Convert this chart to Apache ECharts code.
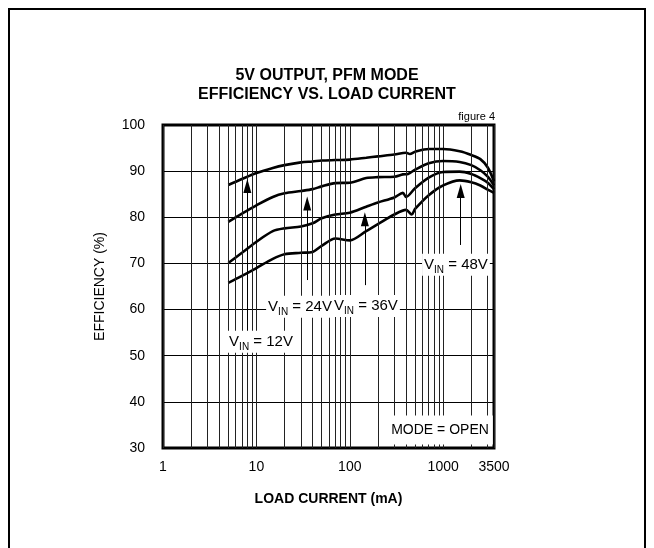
<!DOCTYPE html>
<html>
<head>
<meta charset="utf-8">
<style>
html,body{margin:0;padding:0;background:#fff;}
#chart{width:654px;height:548px;}
</style>
<script src="https://cdn.jsdelivr.net/npm/echarts@6/dist/echarts.min.js"></script>
</head>
<body>
<div id="chart"></div>
<script>
// load current (mA) / efficiency (%) for each input voltage
var load12 = [5, 7, 10, 15, 20, 30, 40, 50, 70, 100, 150, 200, 300, 400, 440, 500, 700, 1000, 1500, 2000, 2500, 3000, 3500];
var eff12  = [87, 88.3, 89.6, 90.7, 91.3, 91.9, 92.1, 92.3, 92.4, 92.5, 92.9, 93.2, 93.6, 94.0, 93.7, 94.2, 94.8, 94.8, 94.3, 93.5, 92.6, 90.8, 87.8];

var load24 = [5, 7, 10, 15, 20, 30, 40, 50, 70, 100, 150, 200, 300, 370, 420, 500, 700, 1000, 1500, 2000, 2500, 3000, 3500];
var eff24  = [79, 80.8, 82.6, 84.4, 85.2, 85.7, 86.1, 86.7, 87.4, 87.5, 88.5, 88.7, 88.8, 89.3, 89.4, 90.3, 91.7, 92.2, 92.0, 91.3, 90.2, 88.8, 86.9];

var load36 = [5, 7, 10, 15, 20, 30, 40, 50, 70, 100, 150, 200, 300, 370, 400, 500, 700, 1000, 1500, 2000, 2500, 3000, 3500];
var eff36  = [70.1, 72.3, 74.7, 77, 77.6, 78, 78.7, 79.8, 80.6, 81, 82.3, 83.2, 84.3, 85.3, 84.4, 86.3, 88.6, 89.8, 89.9, 89.4, 88.5, 87.5, 86.1];

var load48 = [5, 7, 10, 15, 20, 30, 40, 50, 70, 100, 150, 200, 300, 400, 460, 500, 700, 1000, 1500, 2000, 2500, 3000, 3500];
var eff48  = [65.8, 67.3, 69, 71, 72, 72.3, 72.5, 73.8, 75.4, 75.0, 77, 78.5, 80.6, 81.6, 80.6, 81.8, 84.8, 86.9, 88, 87.6, 86.9, 86, 85.3];

// minor vertical grid lines of the log axis
var minorX = [2, 3, 4, 5, 6, 7, 8, 9, 20, 30, 40, 50, 60, 70, 80, 90, 200, 300, 400, 500, 600, 700, 800, 900, 2000, 3000];

// annotations: V_IN labels and arrows
var vinNames  = ['12V', '24V', '36V', '48V'];
var arrowX    = [8, 35, 145, 1540];
var arrowTip  = [88.3, 84.5, 81.1, 87.2];
var arrowTail = [54.9, 66.4, 65.3, 74];
var labelX    = [11.2, 29.3, 149, 1370];
var labelY    = [53.0, 60.6, 60.8, 69.7];

var font = '"Liberation Sans", Arial, sans-serif';

var myChart = echarts.init(document.getElementById('chart'));

function pairs(xs, ys) {
    return xs.map(function (x, i) { return [x, ys[i]]; });
}

var curves = [pairs(load12, eff12), pairs(load24, eff24), pairs(load36, eff36), pairs(load48, eff48)];

var series = [];

// grid lines at 2..9 x decade
series.push({
    type: 'line',
    data: [],
    z: 1,
    markLine: {
        silent: true,
        symbol: ['none', 'none'],
        label: {show: false},
        lineStyle: {color: '#222', width: 1, type: 'solid'},
        data: minorX.map(function (v) { return {xAxis: v}; })
    }
});

curves.forEach(function (d, i) {
    series.push({
        name: vinNames[i],
        type: 'line',
        data: d,
        smooth: 0.3,
        showSymbol: false,
        symbol: 'none',
        z: 3,
        lineStyle: {color: '#000', width: 2.6}
    });
});

// arrows: shaft as markLine, head as markPoint triangle
series.push({
    type: 'line',
    data: [],
    z: 4,
    markLine: {
        silent: true,
        symbol: ['none', 'none'],
        label: {show: false},
        lineStyle: {color: '#000', width: 1, type: 'solid'},
        data: arrowX.map(function (x, i) {
            return [{coord: [x, arrowTail[i]]}, {coord: [x, arrowTip[i] - 1]}];
        })
    },
    markPoint: {
        silent: true,
        symbol: 'triangle',
        symbolSize: [8, 14],
        symbolOffset: [0, 7],
        itemStyle: {color: '#000'},
        label: {show: false},
        data: arrowX.map(function (x, i) {
            return {coord: [x, arrowTip[i]]};
        })
    }
});

// V_IN labels and the mode box
series.push({
    type: 'line',
    data: [],
    z: 5,
    markPoint: {
        silent: true,
        symbol: 'circle',
        symbolSize: 0,
        label: {
            show: true,
            position: 'inside',
            backgroundColor: '#fff',
            padding: [2, 2],
            formatter: function (p) {
                return '{v|V}{s|IN}{v| = ' + p.name + '}';
            },
            rich: {
                v: {fontSize: 15, fontFamily: font, color: '#000', lineHeight: 18},
                s: {fontSize: 10, fontFamily: font, color: '#000', lineHeight: 18, padding: [10, 0, 0, 0]}
            }
        },
        data: vinNames.map(function (n, i) {
            return {name: n, coord: [labelX[i], labelY[i]]};
        }).concat([{
            name: 'mode',
            coord: [925, 33.9],
            label: {
                formatter: 'MODE = OPEN',
                fontSize: 14,
                fontFamily: font,
                color: '#000',
                padding: [8, 4, 7, 4]
            }
        }])
    }
});

var option = {
    animation: false,
    backgroundColor: '#fff',
    title: [{
        text: '5V OUTPUT, PFM MODE\nEFFICIENCY VS. LOAD CURRENT',
        left: 'center',
        top: 61,
        textStyle: {fontSize: 16, fontWeight: 'bold', fontFamily: font, color: '#000', lineHeight: 19}
    }],
    graphic: [{
        type: 'rect',
        shape: {x: 9, y: 9, width: 636, height: 600},
        style: {fill: 'none', stroke: '#000', lineWidth: 2},
        silent: true
    }, {
        type: 'text',
        x: 495,
        y: 117,
        style: {text: 'figure 4', fontSize: 11, fontFamily: font, fill: '#000', align: 'right', verticalAlign: 'middle'}
    }],
    grid: {
        left: 163,
        right: 160,
        top: 125,
        bottom: 100,
        show: true,
        borderColor: '#000',
        borderWidth: 3
    },
    xAxis: {
        type: 'log',
        logBase: 10,
        min: 1,
        max: 3500,
        name: 'LOAD CURRENT (mA)',
        nameLocation: 'middle',
        nameGap: 44,
        nameTextStyle: {fontSize: 14, fontWeight: 'bold', fontFamily: font, color: '#000'},
        axisLine: {show: false},
        axisTick: {show: false},
        axisLabel: {
            fontSize: 14, fontFamily: font, color: '#000', margin: 12,
            showMaxLabel: true, showMinLabel: true,
            formatter: function (v) { return String(Math.round(v)); }
        },
        splitLine: {show: true, lineStyle: {color: '#222', width: 1}}
    },
    yAxis: {
        type: 'value',
        min: 30,
        max: 100,
        interval: 10,
        name: 'EFFICIENCY (%)',
        nameLocation: 'middle',
        nameGap: 56,
        nameTextStyle: {fontSize: 14, fontFamily: font, color: '#000'},
        axisLine: {show: false},
        axisTick: {show: false},
        axisLabel: {fontSize: 14, fontFamily: font, color: '#000', margin: 18},
        splitLine: {show: true, lineStyle: {color: '#000', width: 1}}
    },
    series: series
};

myChart.setOption(option);
</script>
</body>
</html>
